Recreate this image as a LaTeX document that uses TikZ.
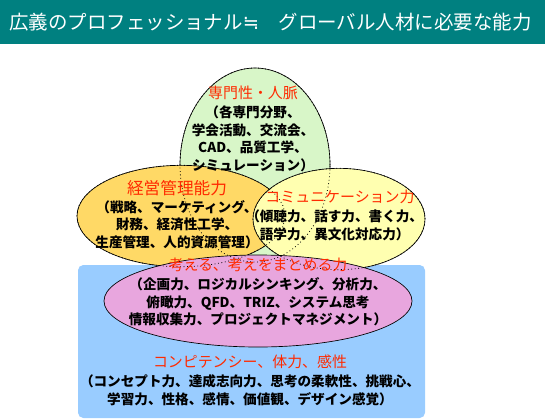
\documentclass[tikz,border=0pt]{standalone}
\usepackage{fontspec}
\setmainfont{Noto Sans CJK JP}
\newfontfamily\symfont{DejaVu Sans}
\usetikzlibrary{shapes.geometric,positioning}
\definecolor{barteal}{HTML}{008080}
\definecolor{skyblue}{HTML}{99CCFF}
\definecolor{leafgreen}{HTML}{D8F6C8}
\definecolor{goldfill}{HTML}{FFD966}
\definecolor{lemonfill}{HTML}{FFFFB0}
\definecolor{mauvefill}{HTML}{E8A6DE}
\definecolor{titlered}{HTML}{FF2A00}

\begin{document}
\begin{tikzpicture}[
  x=0.75pt, y=-0.75pt,
  blob/.style={ellipse, draw=black, line width=0.5pt, inner sep=0pt},
  rim/.style={ellipse, draw=black, dotted, line width=0.6pt, inner sep=0pt},
  head/.style={text=titlered, font=\fontsize{11.2}{13}\selectfont, inner sep=0pt},
  body/.style={align=center, font=\fontsize{10.2}{13.2}\selectfont\bfseries, inner sep=0pt}
]
  \useasboundingbox (0,0) rectangle (545,418);

  % Title bar
  \fill[barteal] (0,0) rectangle (545,44);
  \node (title) [anchor=west, text=white, inner sep=0pt,
    font=\fontsize{14.6}{16}\selectfont] at (9,22)
    {広義のプロフェッショナル{\symfont ≒}　グローバル人材に必要な能力};

  % Base panel
  \fill[skyblue, rounded corners=4pt] (78,265) rectangle (425,418);

  % Overlapping fields
  \node (green) [blob, fill=leafgreen, minimum width=112.5pt, minimum height=145.5pt] at (255,165) {};
  \node (gold) [blob, fill=goldfill, minimum width=156pt, minimum height=76pt] at (181,216) {};
  \node (lemon) [blob, fill=lemonfill, minimum width=129pt, minimum height=76pt] at (339,219) {};
  \node (mauve) [blob, fill=mauvefill, minimum width=231pt, minimum height=69pt] at (258,301) {};

  % Hidden outlines
  \node [rim, minimum width=112.5pt, minimum height=145.5pt] at (green) {};
  \node [rim, minimum width=156pt, minimum height=76pt] at (gold) {};
  \node [rim, minimum width=129pt, minimum height=76pt] at (lemon) {};

  % Labels
  \node (gHead) [head] at (253,93) {専門性・人脈};
  \node (gBody) [body, below=4pt of gHead]
    {（各専門分野、\\学会活動、交流会、\\CAD、品質工学、\\シミュレーション）};

  \node (oHead) [head, font=\fontsize{12.5}{14}\selectfont] at (177,188) {経営管理能力};
  \node (oBody) [body, below=3pt of oHead]
    {（戦略、マーケティング、\\財務、経済性工学、\\生産管理、人的資源管理）};

  \node (yHead) [head] at (340,197) {コミュニケーション力};
  \node (yBody) [body, below=4pt of yHead, xshift=-4pt]
    {（傾聴力、話す力、書く力、\\語学力、異文化対応力）};

  \node (pHead) [head] at (258,265) {考える、考えをまとめる力};
  \node (pBody) [body, below=4pt of pHead]
    {（企画力、ロジカルシンキング、分析力、\\俯瞰力、QFD、TRIZ、システム思考\\情報収集力、プロジェクトマネジメント）};

  \node (bHead) [head] at (250,362) {コンピテンシー、体力、感性};
  \node (bBody) [body, below=4pt of bHead]
    {（コンセプト力、達成志向力、思考の柔軟性、挑戦心、\\学習力、性格、感情、価値観、デザイン感覚）};
\end{tikzpicture}
\end{document}
